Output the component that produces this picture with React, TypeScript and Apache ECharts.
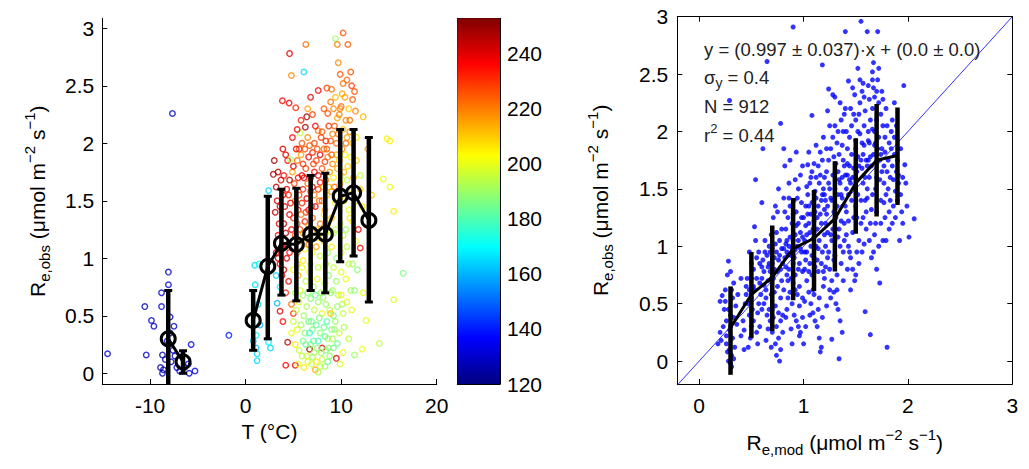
import React, { useEffect, useRef } from 'react';
import * as echarts from 'echarts';

const FONT = "'Liberation Sans', Arial, Helvetica, sans-serif";

// ---------- axes / ticks ----------
const leftXTicks = [-10, 0, 10, 20];
const leftYTicks = [0, 0.5, 1, 1.5, 2, 2.5, 3];
const colorTicks = [120, 140, 160, 180, 200, 220, 240];
const rightXTicks = [0, 1, 2, 3];
const rightYTicks = [0, 0.5, 1, 1.5, 2, 2.5, 3];

const leftXRange = [-15, 20];
const leftYRange = [-0.093, 3.087];
const colorRange = [120, 252.7];
const rightXRange = [-0.21, 3];
const rightYRange = [-0.2, 3];

// ---------- left panel: binned means ----------
const leftBinT = [-8.1, -6.55, 0.79, 2.32, 3.75, 5.31, 6.81, 8.34, 9.9, 11.3, 12.9];
const leftBinMean = [0.3, 0.1, 0.46, 0.93, 1.13, 1.12, 1.21, 1.21, 1.54, 1.57, 1.33];
const leftBinLo = [-0.12, 0.0, 0.2, 0.3, 0.68, 0.63, 0.72, 0.7, 0.97, 1.02, 0.62];
const leftBinHi = [0.72, 0.196, 0.72, 1.54, 1.6, 1.61, 1.72, 1.74, 2.12, 2.12, 2.05];
const leftGapAfter = 1; // no line between bin 1 and bin 2

// ---------- left panel: observations [T, Re_obs, colour value] ----------
const leftScatter = [
  // cold blue cluster
  [-14.45, 0.17, 130], [-10.55, 0.58, 128], [-10.4, 0.16, 128], [-9.85, 0.46, 130], [-9.6, 0.41, 130],
  [-8.8, 0.7, 130], [-8.8, 0.58, 130], [-8.7, 0.16, 125], [-8.08, 0.88, 130], [-8.08, 0.77, 132],
  [-7.9, 0.49, 128], [-7.5, 0.41, 130], [-7.66, 2.26, 130], [-5.7, 0.25, 135], [-5.3, 0.02, 132],
  [-8.9, 0.05, 125], [-8.6, 0.03, 125], [-8.7, 0.0, 128], [-7.8, 0.1, 130], [-7.6, 0.2, 130],
  [-7.4, 0.15, 128], [-7.2, 0.05, 130], [-6.9, 0.02, 132], [-6.4, 0.05, 130], [-6.0, 0.08, 135],
  [-5.9, 0.0, 130], [-8.2, 0.28, 130], [-7.9, 0.35, 128], [-8.4, 0.12, 125], [-1.75, 0.33, 140],
  // cyan points near 0-3 C
  [0.96, 0.94, 165], [1.0, 0.77, 165], [1.1, 0.33, 168], [1.2, 0.17, 165], [1.2, 0.11, 165],
  [1.1, 0.22, 162], [0.9, 0.55, 165], [1.4, 0.95, 170], [1.3, 0.6, 165], [2.6, 0.22, 165],
  [2.4, 0.27, 168], [2.4, 1.59, 165], [1.5, 0.42, 160], [0.8, 0.28, 162], [3.3, 0.61, 160],
  [3.6, 0.75, 168], [3.2, 0.85, 165],
  // upper part (> 2)
  [4.6, 2.78, 240], [4.8, 2.59, 218], [6.1, 2.62, 165], [6.3, 2.86, 222], [9.4, 2.91, 190],
  [9.6, 2.86, 220], [10.2, 2.96, 225], [10.7, 2.86, 225], [9.9, 2.6, 225], [11.0, 2.62, 225],
  [10.2, 2.52, 222], [11.1, 2.5, 228], [7.6, 2.46, 238], [9.0, 2.47, 222], [11.4, 2.45, 225],
  [10.1, 2.43, 215], [3.85, 2.37, 238], [4.55, 2.35, 236], [5.25, 2.31, 232], [6.5, 2.3, 215],
  [8.9, 2.36, 222], [9.4, 2.4, 212], [10.4, 2.4, 215], [11.2, 2.38, 225], [9.2, 2.3, 218],
  [10.0, 2.32, 222], [10.8, 2.3, 210], [11.5, 2.28, 220], [8.6, 2.26, 226], [9.6, 2.22, 214],
  [10.5, 2.2, 218], [12.3, 2.23, 212], [6.4, 2.23, 248], [6.25, 2.14, 248], [7.6, 2.11, 222],
  [5.7, 2.09, 195], [6.5, 2.05, 218], [8.0, 2.1, 225], [8.7, 2.15, 230], [9.1, 2.08, 220],
  [10.2, 2.12, 212], [10.9, 2.1, 218], [11.6, 2.05, 205], [14.8, 2.04, 205], [15.1, 2.02, 205],
  [7.2, 2.0, 228], [9.5, 2.0, 222], [11.2, 2.0, 210], [8.4, 2.02, 232], [5.9, 2.0, 225],
  [9.8, 2.25, 220], [10.6, 2.05, 215], [9.3, 2.15, 225], [5.8, 2.2, 232], [7.0, 2.25, 228],
  [8.2, 2.3, 225], [9.9, 2.3, 218], [10.6, 2.55, 222], [9.7, 2.7, 218], [8.5, 2.48, 228],
  [7.3, 2.15, 235], [6.8, 2.4, 238], [5.4, 2.12, 240], [4.9, 2.05, 236], [10.9, 2.2, 222],
  // 1.4 - 2.0
  [3.0, 1.85, 248], [2.9, 1.73, 248], [4.2, 1.9, 240], [4.4, 1.85, 235], [4.7, 1.86, 190],
  [4.9, 1.75, 215], [5.4, 1.85, 222], [5.8, 1.9, 215], [6.2, 1.95, 225], [6.6, 1.88, 238],
  [7.0, 1.92, 232], [7.4, 1.85, 228], [7.8, 1.9, 240], [8.2, 1.95, 222], [8.6, 1.88, 218],
  [9.0, 1.9, 225], [9.8, 1.85, 210], [10.4, 1.9, 205], [11.0, 1.88, 200], [11.6, 1.85, 210],
  [12.0, 1.72, 195], [14.4, 1.69, 200], [15.1, 1.62, 200], [15.5, 1.41, 205], [3.2, 1.62, 245],
  [3.3, 1.5, 240], [4.3, 1.6, 238], [4.5, 1.55, 232], [4.1, 1.45, 240], [5.1, 1.65, 228],
  [5.5, 1.7, 235], [5.9, 1.72, 240], [6.3, 1.78, 228], [6.8, 1.7, 240], [7.2, 1.75, 235],
  [7.6, 1.72, 242], [8.0, 1.78, 225], [8.4, 1.68, 220], [8.8, 1.75, 215], [9.2, 1.7, 205],
  [9.6, 1.78, 215], [10.0, 1.72, 200], [10.6, 1.68, 195], [11.3, 1.7, 215], [5.2, 1.5, 222],
  [5.6, 1.55, 228], [6.0, 1.6, 232], [6.4, 1.52, 242], [6.8, 1.58, 228], [7.2, 1.55, 220],
  [7.6, 1.6, 230], [8.0, 1.5, 225], [8.5, 1.55, 210], [9.0, 1.58, 215], [9.4, 1.48, 200],
  [9.8, 1.45, 195], [10.3, 1.5, 205], [10.8, 1.42, 200], [11.6, 1.5, 212], [12.2, 1.45, 205],
  [4.6, 1.38, 238], [4.0, 1.3, 245], [3.1, 1.4, 245], [5.0, 1.8, 242], [6.0, 1.82, 230],
  [7.0, 1.62, 245], [7.8, 1.66, 236], [8.3, 1.84, 228], [6.6, 1.42, 236], [5.6, 1.95, 228],
  [3.4, 1.75, 245], [3.7, 1.68, 242], [3.9, 1.55, 238], [4.0, 1.72, 235], [4.7, 1.48, 240],
  [3.6, 1.45, 245], [5.3, 1.95, 238], [5.5, 1.42, 235], [5.9, 1.48, 232], [6.1, 1.7, 238],
  [6.3, 1.4, 230], [6.5, 1.65, 222], [6.7, 1.98, 225], [6.9, 1.45, 235], [7.1, 1.82, 228],
  [7.3, 1.45, 238], [7.5, 1.95, 225], [7.7, 1.5, 222], [7.9, 2.05, 228], [8.1, 1.62, 218],
  [8.3, 1.42, 215], [8.5, 1.95, 225], [8.7, 1.62, 212], [8.9, 2.02, 225], [9.1, 1.82, 218],
  [9.3, 1.62, 222], [9.5, 1.9, 215], [9.7, 2.08, 222], [9.9, 1.65, 210], [10.1, 1.95, 218],
  [10.3, 1.75, 212], [10.5, 2.0, 222], [10.7, 1.8, 208], [11.1, 1.6, 205], [4.6, 1.68, 245],
  [3.9, 1.95, 240], [12.0, 1.6, 210], [12.8, 1.95, 215], [13.2, 1.55, 210],
  // 1.0 - 1.4
  [3.5, 1.3, 240], [3.4, 1.2, 235], [3.2, 1.05, 242], [4.8, 1.25, 236], [5.0, 1.35, 230],
  [5.4, 1.3, 225], [5.8, 1.38, 220], [6.2, 1.32, 232], [6.6, 1.28, 215], [7.0, 1.35, 225],
  [7.4, 1.25, 210], [7.8, 1.3, 220], [8.2, 1.38, 205], [8.6, 1.3, 200], [9.0, 1.35, 210],
  [9.4, 1.25, 195], [9.9, 1.3, 200], [10.5, 1.25, 190], [11.2, 1.32, 205], [11.8, 1.25, 240],
  [12.0, 1.09, 235], [4.3, 1.0, 240], [5.0, 1.1, 232], [5.4, 1.05, 220], [5.8, 1.15, 210],
  [6.2, 1.08, 205], [6.6, 1.12, 222], [7.0, 1.05, 200], [7.4, 1.1, 215], [7.8, 1.02, 195],
  [8.2, 1.15, 210], [8.6, 1.05, 190], [9.0, 1.1, 205], [9.5, 1.0, 188], [10.0, 1.05, 200],
  [10.6, 1.1, 195], [11.2, 0.95, 190], [11.7, 0.9, 188], [4.2, 1.22, 242], [4.4, 1.12, 240],
  [4.6, 1.05, 235], [3.8, 1.1, 238], [5.7, 1.25, 228], [3.4, 1.0, 242], [5.2, 1.2, 228],
  [6.0, 1.22, 215], [6.8, 1.18, 210], [7.6, 1.18, 205], [8.4, 1.22, 198], [9.2, 1.22, 192],
  [10.2, 1.2, 195], [10.9, 1.35, 205], [11.5, 1.15, 200],
  // 0.5 - 1.0
  [4.0, 0.9, 242], [3.6, 0.95, 238], [3.8, 0.85, 245], [4.5, 0.8, 238], [4.2, 0.7, 230],
  [4.8, 0.6, 222], [3.6, 0.54, 240], [3.9, 0.45, 235], [5.0, 0.9, 205], [5.5, 0.85, 212],
  [5.9, 0.92, 200], [6.3, 0.8, 195], [6.7, 0.88, 205], [7.1, 0.75, 192], [7.5, 0.82, 200],
  [7.9, 0.7, 190], [8.3, 0.78, 195], [8.7, 0.85, 188], [9.1, 0.72, 192], [9.5, 0.8, 190],
  [10.0, 0.68, 205], [10.5, 0.82, 200], [11.0, 0.72, 192], [11.4, 0.72, 188], [12.3, 0.7, 200],
  [16.5, 0.87, 186], [15.5, 0.64, 198], [5.2, 0.7, 192], [5.6, 0.62, 200], [6.0, 0.68, 190],
  [6.4, 0.58, 192], [6.8, 0.65, 188], [7.2, 0.55, 195], [7.6, 0.62, 190], [8.0, 0.52, 200],
  [8.4, 0.6, 190], [8.8, 0.55, 194], [9.2, 0.5, 186], [9.6, 0.58, 190], [10.2, 0.52, 195],
  [11.1, 0.55, 200], [12.6, 0.46, 200], [8.9, 0.52, 210], [5.0, 0.52, 230], [5.3, 0.55, 195],
  [5.7, 0.72, 198], [6.1, 0.5, 190], [6.5, 0.7, 188], [7.3, 0.68, 184], [8.1, 0.66, 190],
  [8.9, 0.7, 188], [9.7, 0.68, 194], [10.1, 0.6, 192], [10.6, 0.62, 198], [5.4, 0.95, 210],
  [6.0, 0.98, 205], [6.8, 0.95, 198], [7.6, 0.92, 195], [8.4, 0.95, 192], [9.2, 0.92, 195],
  [10.0, 0.88, 200], [10.8, 0.95, 195],
  // 0 - 0.5
  [4.4, 0.27, 245], [4.2, 0.07, 238], [5.2, 0.07, 238], [7.3, 0.03, 215], [7.6, 0.01, 192],
  [9.5, 0.13, 240], [8.0, 0.22, 240], [6.7, 0.21, 248], [5.0, 0.45, 195], [5.4, 0.38, 200],
  [5.8, 0.42, 192], [6.2, 0.35, 188], [6.6, 0.45, 184], [7.0, 0.38, 186], [7.4, 0.42, 182],
  [7.8, 0.35, 188], [8.2, 0.4, 184], [8.6, 0.3, 192], [9.0, 0.38, 186], [9.4, 0.45, 190],
  [9.8, 0.35, 195], [10.3, 0.4, 192], [10.8, 0.3, 195], [5.2, 0.25, 205], [5.6, 0.2, 195],
  [6.0, 0.28, 186], [6.4, 0.15, 198], [6.8, 0.25, 188], [7.2, 0.18, 192], [7.6, 0.28, 178],
  [8.0, 0.12, 195], [8.4, 0.2, 186], [8.8, 0.15, 190], [9.2, 0.22, 186], [9.6, 0.26, 184],
  [10.2, 0.18, 200], [12.2, 0.21, 200], [11.4, 0.16, 190], [14.0, 0.26, 195], [5.5, 0.08, 200],
  [6.1, 0.05, 205], [6.9, 0.08, 195], [8.3, 0.06, 190], [7.4, 0.1, 205], [4.8, 0.35, 200],
  [6.9, 0.45, 186], [7.7, 0.48, 186], [8.5, 0.45, 180], [9.3, 0.38, 190], [6.3, 0.25, 184],
  [6.7, 0.35, 176], [7.1, 0.28, 182], [7.5, 0.22, 188], [7.9, 0.18, 190], [8.3, 0.32, 182],
  [8.7, 0.22, 188], [9.1, 0.3, 192], [5.9, 0.15, 194], [6.5, 0.1, 198], [7.0, 0.14, 190],
  [7.8, 0.06, 194], [8.6, 0.1, 184], [9.9, 0.08, 198],
];

// ---------- right panel: binned means ----------
const rightBinX = [0.3, 0.5, 0.7, 0.9, 1.1, 1.3, 1.5, 1.7, 1.9];
const rightBinMean = [0.29, 0.58, 0.73, 0.98, 1.07, 1.24, 1.55, 1.75, 1.79];
const rightBinLo = [-0.12, 0.2, 0.26, 0.53, 0.61, 0.78, 1.11, 1.26, 1.36];
const rightBinHi = [0.65, 0.95, 1.18, 1.42, 1.49, 1.74, 1.94, 2.24, 2.21];
const oneToOne = [-0.21, 3];

// ---------- right panel: observations [Re_mod, Re_obs] ----------
const rightScatter = [
  [0.22, 0.57], [0.25, 0.52], [0.28, 0.87], [0.3, 0.78], [0.27, 0.75], [0.24, 0.45], [0.2, 0.25], [0.18, 0.15],
  [0.21, 0.18], [0.26, 0.35], [0.3, 0.3], [0.32, 0.2], [0.29, 0.1], [0.31, 0.05], [0.28, 0.0], [0.3, -0.02],
  [0.33, 0.02], [0.27, 0.08], [0.3, 0.4], [0.32, 0.55], [0.25, 0.62], [0.35, 0.48], [0.23, 0.3], [0.29, 0.27],
  [0.34, 0.12], [0.31, -0.05], [0.26, 0.22], [0.36, 0.32], [0.33, 0.68], [0.2, 0.52], [0.29, 2.27],
  [0.28, 0.45], [0.31, 0.62], [0.26, 0.15], [0.33, 0.38], [0.37, 0.58], [0.4, 0.72],
  [0.42, 0.35], [0.45, 0.58], [0.48, 0.62], [0.5, 0.72], [0.52, 0.8], [0.55, 0.9], [0.53, 1.17], [0.54, 1.58],
  [0.58, 0.68], [0.57, 0.5], [0.5, 0.3], [0.47, 0.12], [0.49, 0.2], [0.43, 0.27], [0.56, 0.42], [0.6, 0.82],
  [0.51, 0.45], [0.46, 0.72], [0.59, 0.58], [0.55, 0.25], [0.44, 0.5], [0.52, 0.65], [0.58, 0.3], [0.6, 1.38],
  [0.61, 1.85], [0.4, 0.22], [0.57, 0.95], [0.6, 0.72], [0.5, 0.55], [0.48, 0.4],
  [0.45, 0.65], [0.5, 0.85], [0.53, 0.62], [0.55, 0.72], [0.58, 0.85], [0.47, 0.5], [0.52, 0.35], [0.56, 0.15],
  [0.43, 0.1], [0.6, 0.45], [0.54, 1.05], [0.48, 0.95],
  [0.62, 0.5], [0.64, 0.62], [0.66, 0.7], [0.68, 0.78], [0.7, 0.85], [0.72, 0.9], [0.74, 0.95], [0.76, 0.88],
  [0.78, 0.8], [0.65, 0.92], [0.67, 1.0], [0.69, 1.1], [0.71, 1.25], [0.73, 1.35], [0.75, 1.3], [0.63, 1.05],
  [0.77, 1.05], [0.79, 0.7], [0.72, 0.6], [0.7, 0.45], [0.68, 0.35], [0.66, 0.28], [0.74, 0.3], [0.76, 0.2],
  [0.78, 0.1], [0.77, 0.0], [0.73, 0.15], [0.7, 0.25], [0.65, 0.4], [0.64, 0.18], [0.8, 0.4], [0.78, 0.55],
  [0.75, 0.65], [0.71, 0.72], [0.69, 0.58], [0.67, 0.85], [0.62, 0.78], [0.65, 2.61], [0.78, 2.07], [0.81, 1.85],
  [0.76, 1.5], [0.73, 0.48], [0.68, 0.95], [0.74, 1.12], [0.79, 0.98],
  [0.61, 0.88], [0.63, 0.95], [0.66, 0.82], [0.69, 0.72], [0.72, 0.8], [0.75, 0.78], [0.77, 0.92], [0.8, 0.85],
  [0.62, 0.66], [0.7, 0.98], [0.73, 1.02], [0.79, 1.15], [0.64, 0.55], [0.67, 0.45], [0.71, 0.38], [0.76, 0.42],
  [0.78, 0.35], [0.8, 0.25], [0.74, 0.05], [0.69, 0.12],
  [0.82, 0.9], [0.84, 0.95], [0.86, 1.0], [0.88, 0.92], [0.9, 1.05], [0.92, 1.1], [0.94, 1.0], [0.96, 0.85],
  [0.98, 0.95], [0.83, 1.15], [0.85, 1.25], [0.87, 1.35], [0.89, 1.2], [0.91, 1.4], [0.93, 1.3], [0.95, 1.5],
  [0.97, 1.62], [0.99, 1.7], [0.82, 1.7], [0.93, 1.82], [0.9, 2.91], [0.85, 0.7], [0.87, 0.6], [0.89, 0.5],
  [0.91, 0.4], [0.93, 0.35], [0.95, 0.3], [0.97, 0.25], [0.89, 0.15], [0.84, 0.45], [0.86, 0.8], [0.92, 0.75],
  [0.96, 0.65], [0.99, 0.55], [0.81, 0.62], [0.88, 0.28], [0.94, 0.58], [0.98, 1.25], [0.83, 0.82], [0.97, 1.12],
  [0.9, 0.85], [0.86, 1.55], [0.92, 0.97], [0.95, 1.2], [0.84, 1.05], [0.99, 0.78],
  [0.81, 0.98], [0.83, 1.02], [0.85, 0.92], [0.87, 1.08], [0.89, 0.98], [0.91, 0.9], [0.93, 1.18], [0.95, 1.05],
  [0.97, 0.98], [0.99, 1.08], [0.82, 1.3], [0.86, 1.42], [0.9, 1.28], [0.94, 1.42], [0.98, 1.38], [0.84, 0.75],
  [0.88, 0.72], [0.92, 0.62], [0.96, 0.48], [0.99, 0.38], [0.85, 0.55], [0.9, 0.68], [0.95, 0.8], [0.81, 1.42],
  [0.87, 1.75], [0.92, 1.58], [0.96, 0.22], [0.83, 0.38],
  [1.01, 0.95], [1.03, 1.1], [1.05, 1.2], [1.07, 1.0], [1.09, 1.15], [1.11, 1.3], [1.13, 1.25], [1.15, 1.05],
  [1.17, 1.4], [1.19, 1.5], [1.02, 1.35], [1.04, 1.45], [1.06, 1.55], [1.08, 1.65], [1.1, 1.72], [1.12, 1.6],
  [1.14, 1.7], [1.16, 1.82], [1.18, 1.75], [1.08, 2.14], [1.18, 2.58], [1.04, 1.71], [1.01, 0.8], [1.03, 0.7],
  [1.05, 0.6], [1.07, 0.5], [1.09, 0.42], [1.11, 0.35], [1.13, 0.3], [1.15, 0.2], [1.17, 0.12], [1.16, 0.08],
  [1.0, 0.15], [1.02, 0.3], [1.06, 0.85], [1.1, 0.9], [1.14, 0.78], [1.18, 0.95], [1.12, 1.0], [1.2, 1.1],
  [1.08, 0.75], [1.0, 1.25], [1.19, 0.65], [1.15, 0.55], [1.05, 1.35], [1.11, 1.48], [1.17, 1.2], [1.13, 0.88],
  [1.03, 0.95], [1.07, 1.28], [1.09, 0.62], [1.2, 1.6],
  [1.01, 1.05], [1.02, 1.18], [1.04, 1.28], [1.06, 1.12], [1.08, 1.38], [1.1, 1.22], [1.12, 1.42], [1.14, 1.35],
  [1.16, 1.28], [1.18, 1.45], [1.2, 1.32], [1.02, 0.88], [1.05, 0.78], [1.08, 0.92], [1.11, 0.82], [1.14, 0.98],
  [1.17, 0.85], [1.19, 0.78], [1.03, 1.52], [1.07, 1.6], [1.12, 1.88], [1.16, 1.62], [1.19, 1.95], [1.05, 1.82],
  [1.1, 0.58], [1.14, 0.45], [1.18, 0.38], [1.01, 0.52], [1.06, 0.4], [1.13, 1.15], [1.15, 1.55], [1.2, 0.72],
  [1.21, 1.2], [1.23, 1.35], [1.25, 1.5], [1.27, 1.4], [1.29, 1.3], [1.31, 1.25], [1.33, 1.45], [1.35, 1.55],
  [1.37, 1.6], [1.39, 1.7], [1.22, 1.65], [1.24, 1.75], [1.26, 1.85], [1.28, 1.95], [1.3, 2.05], [1.32, 1.9],
  [1.34, 1.8], [1.36, 2.1], [1.38, 2.0], [1.24, 2.37], [1.3, 2.3], [1.28, 2.32], [1.4, 2.87], [1.21, 1.0],
  [1.23, 0.9], [1.25, 0.8], [1.27, 0.7], [1.29, 0.6], [1.31, 0.5], [1.33, 0.45], [1.35, 0.35], [1.37, 0.25],
  [1.34, 0.02], [1.27, 0.19], [1.22, 0.48], [1.26, 1.1], [1.3, 1.05], [1.34, 1.15], [1.38, 0.95], [1.36, 0.85],
  [1.32, 0.75], [1.4, 1.35], [1.2, 1.45], [1.28, 1.15], [1.33, 1.65], [1.39, 1.2], [1.25, 0.62], [1.35, 1.0],
  [1.31, 1.72], [1.37, 1.42], [1.23, 1.12], [1.29, 0.88],
  [1.21, 1.4], [1.22, 1.28], [1.24, 1.55], [1.26, 1.42], [1.28, 1.62], [1.3, 1.5], [1.32, 1.35], [1.34, 1.58],
  [1.36, 1.45], [1.38, 1.75], [1.4, 1.62], [1.22, 1.85], [1.25, 2.05], [1.29, 1.78], [1.33, 2.0], [1.37, 1.88],
  [1.39, 2.15], [1.21, 0.82], [1.24, 0.95], [1.27, 1.05], [1.3, 0.92], [1.33, 1.08], [1.36, 1.22], [1.39, 1.05],
  [1.26, 0.55], [1.32, 0.62], [1.38, 0.7], [1.35, 2.25], [1.23, 2.18], [1.31, 1.15],
  [1.41, 1.3], [1.43, 1.45], [1.45, 1.55], [1.47, 1.6], [1.49, 1.5], [1.51, 1.65], [1.53, 1.7], [1.55, 1.75],
  [1.57, 1.8], [1.59, 1.6], [1.42, 1.85], [1.44, 1.95], [1.46, 2.05], [1.48, 2.15], [1.5, 2.1], [1.52, 2.0],
  [1.54, 2.25], [1.56, 2.35], [1.58, 2.3], [1.43, 2.44], [1.54, 2.45], [1.55, 2.96], [1.41, 1.1], [1.43, 1.0],
  [1.45, 0.9], [1.47, 0.8], [1.49, 0.7], [1.51, 0.95], [1.53, 1.05], [1.55, 1.2], [1.57, 1.25], [1.59, 1.4],
  [1.59, 0.43], [1.45, 0.62], [1.5, 1.35], [1.56, 1.9], [1.44, 1.7], [1.58, 2.05], [1.48, 1.25], [1.52, 1.45],
  [1.46, 1.4], [1.53, 0.85], [1.6, 1.15], [1.42, 1.62], [1.57, 1.55], [1.5, 1.85], [1.4, 2.2],
  [1.41, 1.5], [1.42, 1.72], [1.44, 1.58], [1.46, 1.8], [1.48, 1.68], [1.5, 1.92], [1.52, 1.78], [1.54, 1.98],
  [1.56, 1.68], [1.58, 1.88], [1.6, 1.75], [1.41, 2.0], [1.45, 2.2], [1.49, 2.32], [1.53, 2.15], [1.57, 2.42],
  [1.59, 2.18], [1.43, 1.22], [1.47, 1.12], [1.51, 1.25], [1.55, 1.4], [1.58, 1.02], [1.44, 0.95], [1.5, 0.75],
  [1.56, 0.95], [1.47, 2.38], [1.52, 2.55], [1.42, 0.8],
  [1.61, 1.5], [1.63, 1.6], [1.65, 1.7], [1.67, 1.8], [1.69, 1.9], [1.71, 1.85], [1.73, 1.75], [1.75, 1.65],
  [1.77, 1.55], [1.79, 1.45], [1.62, 2.0], [1.64, 2.1], [1.66, 2.2], [1.68, 2.3], [1.7, 2.35], [1.72, 2.25],
  [1.74, 2.15], [1.76, 2.05], [1.78, 1.95], [1.61, 2.87], [1.67, 2.6], [1.71, 2.87], [1.62, 2.4], [1.66, 2.45],
  [1.6, 1.3], [1.64, 1.2], [1.68, 1.1], [1.72, 1.0], [1.76, 1.05], [1.7, 1.3], [1.74, 1.4], [1.78, 1.25],
  [1.64, 0.23], [1.73, 0.68], [1.8, 0.12], [1.62, 1.75], [1.66, 1.45], [1.7, 1.6], [1.75, 1.85], [1.68, 2.0],
  [1.63, 1.9], [1.77, 1.7], [1.79, 2.2], [1.65, 0.9], [1.72, 2.55], [1.69, 1.2],
  [1.61, 1.7], [1.62, 1.92], [1.64, 1.78], [1.66, 2.02], [1.68, 1.88], [1.7, 2.1], [1.72, 1.95], [1.74, 1.8],
  [1.76, 2.28], [1.78, 1.82], [1.8, 1.65], [1.63, 2.28], [1.67, 2.38], [1.71, 2.45], [1.75, 2.35], [1.61, 1.42],
  [1.65, 1.32], [1.69, 1.5], [1.73, 1.58], [1.77, 1.38], [1.79, 1.05], [1.63, 1.05], [1.67, 0.95], [1.7, 0.8],
  [1.66, 2.52], [1.74, 1.2],
  [1.81, 1.5], [1.83, 1.6], [1.85, 1.7], [1.87, 1.8], [1.89, 1.65], [1.91, 1.55], [1.93, 1.45], [1.82, 1.9],
  [1.84, 2.0], [1.86, 1.35], [1.88, 1.25], [1.9, 1.4], [1.92, 1.05], [1.97, 1.71], [1.98, 1.55], [1.96, 2.4],
  [2.01, 1.08], [2.06, 1.24], [1.85, 2.1], [1.94, 1.3], [1.82, 1.15], [1.87, 1.95], [1.9, 1.75], [1.95, 1.2],
  [1.83, 1.4], [1.81, 1.75], [1.84, 1.85], [1.86, 1.58], [1.88, 1.48], [1.91, 1.62], [1.93, 1.85], [1.82, 1.3],
  [1.85, 1.2], [1.89, 2.05], [1.95, 1.6], [1.99, 1.35], [1.8, 2.05], [1.87, 2.25],
];

// ---------- helpers ----------
const jetStops = [
  { offset: 0, color: '#000080' },
  { offset: 0.125, color: '#0000ff' },
  { offset: 0.375, color: '#00ffff' },
  { offset: 0.625, color: '#ffff00' },
  { offset: 0.875, color: '#ff0000' },
  { offset: 1, color: '#800000' },
];

function jet(v: number): string {
  const t = Math.max(0, Math.min(1, (v - colorRange[0]) / (colorRange[1] - colorRange[0])));
  const c = (x: number) => Math.round(255 * Math.max(0, Math.min(1, x)));
  const r = c(1.5 - Math.abs(4 * t - 3));
  const g = c(1.5 - Math.abs(4 * t - 2));
  const b = c(1.5 - Math.abs(4 * t - 1));
  return `rgb(${r},${g},${b})`;
}

const txt = { fontFamily: FONT, color: '#000' };
const richName = {
  m: { ...txt, fontSize: 21, lineHeight: 30 },
  s: { ...txt, fontSize: 15, lineHeight: 15, verticalAlign: 'bottom' },
  p: { ...txt, fontSize: 15, lineHeight: 15, verticalAlign: 'top' },
};

function valueAxis(o: any) {
  const ticks = o.ticks || [];
  return {
    type: 'value',
    gridIndex: o.grid,
    min: o.range[0],
    max: o.range[1],
    position: o.position,
    axisLine: { show: true, onZero: false, lineStyle: { color: '#000', width: 1 } },
    axisTick: o.noTicks
      ? { show: false }
      : { show: true, inside: true, length: 5, customValues: ticks, lineStyle: { color: '#000', width: 1 } },
    axisLabel: o.labels
      ? { show: true, customValues: ticks, fontSize: 21, fontFamily: FONT, color: '#000', margin: o.margin ?? 9 }
      : { show: false },
    splitLine: { show: false },
    name: o.name,
    nameLocation: 'middle',
    nameGap: o.nameGap,
    nameRotate: o.nameRotate,
    nameTextStyle: { ...txt, fontSize: 21, rich: richName },
  };
}

function errorBarSeries(xi: number, yi: number, xs: number[], lo: number[], hi: number[], cap: number, width: number) {
  return {
    type: 'custom',
    xAxisIndex: xi,
    yAxisIndex: yi,
    clip: true,
    z: 5,
    data: xs.map((x, i) => [x, lo[i], hi[i]]),
    renderItem: (params: any, api: any) => {
      const x = api.value(0);
      const p1 = api.coord([x, api.value(1)]);
      const p2 = api.coord([x, api.value(2)]);
      const st = { stroke: '#000', lineWidth: width };
      const children: any[] = [
        { type: 'line', shape: { x1: p1[0], y1: p1[1], x2: p2[0], y2: p2[1] }, style: st },
      ];
      if (cap > 0) {
        const cs = { stroke: '#000', lineWidth: 3 };
        children.push({ type: 'line', shape: { x1: p1[0] - cap, y1: p1[1], x2: p1[0] + cap, y2: p1[1] }, style: cs });
        children.push({ type: 'line', shape: { x1: p2[0] - cap, y1: p2[1], x2: p2[0] + cap, y2: p2[1] }, style: cs });
      }
      return { type: 'group', children };
    },
  };
}

export default function App() {
  const ref = useRef<HTMLDivElement>(null);

  useEffect(() => {
    if (!ref.current) return;
    const chart = echarts.init(ref.current, undefined, { renderer: 'svg' });

    const leftLine: any[] = [];
    leftBinT.forEach((t, i) => {
      leftLine.push([t, leftBinMean[i]]);
      if (i === leftGapAfter) leftLine.push(['-', '-']);
    });

    const option: any = {
      animation: false,
      backgroundColor: '#fff',
      grid: [
        { left: 102.3, top: 18.3, width: 334.4, height: 365.7 },
        { left: 457.3, top: 18.3, width: 42.7, height: 365.7 },
        { left: 677.3, top: 16.7, width: 335, height: 367.3 },
      ],
      xAxis: [
        valueAxis({ grid: 0, range: leftXRange, ticks: leftXTicks, labels: true, margin: 11, name: 'T (°C)', nameGap: 36, position: 'bottom' }),
        valueAxis({ grid: 1, range: [0, 1], noTicks: true, position: 'bottom' }),
        valueAxis({ grid: 1, range: [0, 1], noTicks: true, position: 'top' }),
        valueAxis({
          grid: 2, range: rightXRange, ticks: rightXTicks, labels: true, margin: 11, position: 'bottom',
          name: '{m|R}{s|e,mod}{m| (μmol m}{p|−2}{m| s}{p|−1}{m|)}', nameGap: 43,
        }),
        valueAxis({ grid: 2, range: rightXRange, ticks: rightXTicks, position: 'top' }),
      ],
      yAxis: [
        valueAxis({
          grid: 0, range: leftYRange, ticks: leftYTicks, labels: true, margin: 8, position: 'left',
          name: '{m|R}{s|e,obs}{m| (μmol m}{p|−2}{m| s}{p|−1}{m|)}', nameGap: 50, nameRotate: 90,
        }),
        valueAxis({ grid: 1, range: colorRange, ticks: colorTicks, position: 'left' }),
        valueAxis({ grid: 1, range: colorRange, ticks: colorTicks, labels: true, margin: 7, position: 'right' }),
        valueAxis({
          grid: 2, range: rightYRange, ticks: rightYTicks, labels: true, margin: 9, position: 'left',
          name: '{m|R}{s|e,obs}{m| (μmol m}{p|−2}{m| s}{p|−1}{m|)}', nameGap: 62, nameRotate: 90,
        }),
        valueAxis({ grid: 2, range: rightYRange, ticks: rightYTicks, position: 'right' }),
      ],
      series: [
        {
          type: 'scatter',
          xAxisIndex: 0,
          yAxisIndex: 0,
          symbol: 'circle',
          symbolSize: 5.5,
          clip: true,
          itemStyle: { color: 'rgba(0,0,0,0)', borderWidth: 1.4 },
          data: leftScatter.map((d) => ({ value: [d[0], d[1]], itemStyle: { borderColor: jet(d[2]) } })),
        },
        errorBarSeries(0, 0, leftBinT, leftBinLo, leftBinHi, 4, 4.5),
        {
          type: 'line',
          xAxisIndex: 0,
          yAxisIndex: 0,
          z: 6,
          connectNulls: false,
          symbol: 'circle',
          symbolSize: 14,
          showAllSymbol: true,
          lineStyle: { color: '#000', width: 3 },
          itemStyle: { color: 'rgba(0,0,0,0)', borderColor: '#000', borderWidth: 3 },
          data: leftLine,
        },
        {
          type: 'custom',
          xAxisIndex: 1,
          yAxisIndex: 1,
          z: 1,
          data: [[0, colorRange[0], 1, colorRange[1]]],
          renderItem: (params: any, api: any) => {
            const a = api.coord([api.value(0), api.value(3)]);
            const b = api.coord([api.value(2), api.value(1)]);
            return {
              type: 'rect',
              shape: { x: a[0], y: a[1], width: b[0] - a[0], height: b[1] - a[1] },
              style: { fill: new echarts.graphic.LinearGradient(0, 1, 0, 0, jetStops) },
            };
          },
        },
        {
          type: 'scatter',
          xAxisIndex: 3,
          yAxisIndex: 3,
          symbol: 'circle',
          symbolSize: 5,
          clip: true,
          itemStyle: { color: '#0000ff' },
          data: rightScatter,
        },
        {
          type: 'line',
          xAxisIndex: 3,
          yAxisIndex: 3,
          z: 4,
          symbol: 'none',
          clip: true,
          lineStyle: { color: '#3333ff', width: 1 },
          data: oneToOne.map((v) => [v, v]),
        },
        errorBarSeries(3, 3, rightBinX, rightBinLo, rightBinHi, 0, 4.5),
        {
          type: 'line',
          xAxisIndex: 3,
          yAxisIndex: 3,
          z: 6,
          symbol: 'none',
          lineStyle: { color: '#000', width: 3 },
          data: rightBinX.map((x, i) => [x, rightBinMean[i]]),
        },
      ],
      graphic: [
        {
          type: 'text', x: 704, y: 49, z: 10,
          style: { text: 'y = (0.997 ± 0.037)·x + (0.0 ± 0.0)', fontFamily: FONT, fontSize: 18.5, fill: '#222', verticalAlign: 'middle' },
        },
        {
          type: 'text', x: 704, y: 77, z: 10,
          style: {
            text: '{a|σ}{b|y}{a| = 0.4}', verticalAlign: 'middle',
            rich: {
              a: { fontFamily: FONT, fontSize: 18.5, fill: '#222', lineHeight: 26 },
              b: { fontFamily: FONT, fontSize: 14, fill: '#222', lineHeight: 14, verticalAlign: 'bottom' },
            },
          },
        },
        {
          type: 'text', x: 704, y: 106, z: 10,
          style: { text: 'N = 912', fontFamily: FONT, fontSize: 18.5, fill: '#222', verticalAlign: 'middle' },
        },
        {
          type: 'text', x: 704, y: 135, z: 10,
          style: {
            text: '{a|r}{c|2}{a| = 0.44}', verticalAlign: 'middle',
            rich: {
              a: { fontFamily: FONT, fontSize: 18.5, fill: '#222', lineHeight: 26 },
              c: { fontFamily: FONT, fontSize: 13, fill: '#222', lineHeight: 13, verticalAlign: 'top' },
            },
          },
        },
      ],
    };

    chart.setOption(option);
    return () => chart.dispose();
  }, []);

  return (
    <div
      ref={ref}
      style={{ position: 'fixed', left: 0, top: 0, width: 1029, height: 469, background: '#fff' }}
    />
  );
}
